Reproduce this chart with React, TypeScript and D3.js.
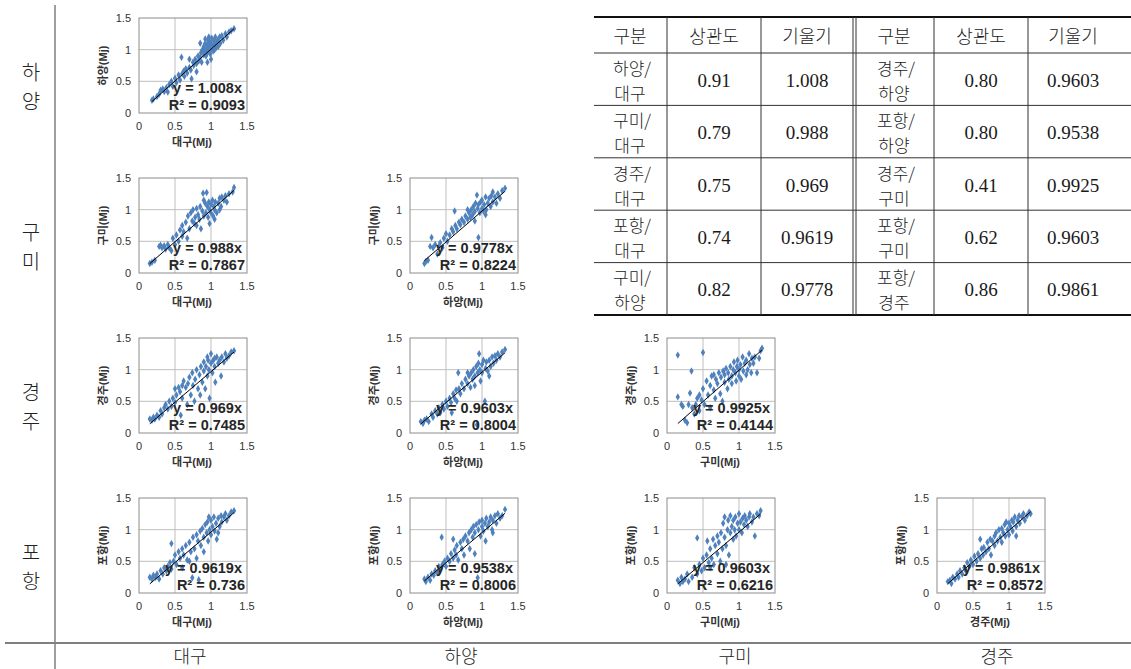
import React, { useRef, useEffect } from 'react';
import * as d3 from 'd3';

type Pt = [number, number];

// station names (x series by column, y series by row + 1)
const stations = ['대구', '하양', '구미', '경주', '포항'];
const axisTicks = [0, 0.5, 1, 1.5];

// scatter points: [x, y]
const hayangDaegu: Pt[] = [[0.18,0.2],[0.2,0.22],[0.25,0.26],[0.28,0.3],[0.3,0.36],[0.33,0.38],[0.35,0.34],[0.38,0.4],[0.4,0.33],[0.42,0.45],[0.45,0.5],[0.47,0.42],[0.5,0.55],[0.52,0.48],[0.55,0.6],[0.57,0.52],[0.59,0.88],[0.6,0.62],[0.62,0.66],[0.63,0.58],[0.65,0.7],[0.67,0.63],[0.7,0.72],[0.72,0.68],[0.73,0.54],[0.75,0.8],[0.76,0.75],[0.78,0.85],[0.8,0.78],[0.82,0.9],[0.83,0.82],[0.85,0.88],[0.86,0.95],[0.87,0.8],[0.88,1.0],[0.9,0.92],[0.9,1.05],[0.91,0.98],[0.92,1.1],[0.93,0.9],[0.94,1.02],[0.95,1.08],[0.95,0.95],[0.96,1.15],[0.97,1.0],[0.98,1.05],[0.98,1.12],[0.99,0.93],[1.0,1.1],[1.0,1.0],[1.01,1.18],[1.02,1.06],[1.03,0.98],[1.04,1.14],[1.05,1.08],[1.06,1.2],[1.07,1.03],[1.08,1.12],[1.1,1.16],[1.1,1.05],[1.12,1.2],[1.13,1.1],[1.15,1.22],[1.17,1.15],[1.2,1.25],[1.22,1.2],[1.25,1.28],[1.28,1.3],[1.32,1.33],[0.95,0.8],[1.0,0.85],[0.85,1.1],[0.8,0.65],[0.7,0.85],[0.92,1.17],[1.05,1.0],[0.97,1.2]];
const gumiDaegu: Pt[] = [[0.15,0.15],[0.18,0.17],[0.22,0.2],[0.28,0.42],[0.3,0.44],[0.32,0.4],[0.35,0.43],[0.37,0.38],[0.4,0.45],[0.42,0.4],[0.45,0.35],[0.47,0.55],[0.5,0.45],[0.52,0.6],[0.55,0.5],[0.57,0.68],[0.6,0.58],[0.6,0.75],[0.62,0.65],[0.65,0.8],[0.67,0.55],[0.68,0.9],[0.7,0.7],[0.72,0.95],[0.74,0.82],[0.75,1.0],[0.77,0.78],[0.78,0.88],[0.8,1.02],[0.82,0.92],[0.84,0.85],[0.85,1.05],[0.86,0.7],[0.88,0.98],[0.89,1.26],[0.9,0.9],[0.92,1.1],[0.93,0.95],[0.94,1.27],[0.95,1.05],[0.96,0.88],[0.97,1.12],[0.98,1.0],[1.0,0.95],[1.0,1.08],[1.02,1.15],[1.03,0.9],[1.04,1.05],[1.05,1.0],[1.06,1.12],[1.08,0.95],[1.1,1.1],[1.12,1.18],[1.14,1.05],[1.15,1.2],[1.18,1.15],[1.2,1.22],[1.22,1.12],[1.25,1.25],[1.3,1.28],[1.32,1.35],[0.98,0.78],[1.05,0.85],[0.9,1.15],[0.8,0.75],[1.12,1.0]];
const gumiHayang: Pt[] = [[0.2,0.15],[0.22,0.18],[0.25,0.2],[0.28,0.42],[0.3,0.56],[0.32,0.4],[0.35,0.45],[0.38,0.3],[0.4,0.42],[0.42,0.48],[0.45,0.4],[0.47,0.55],[0.5,0.62],[0.52,0.5],[0.55,0.6],[0.58,0.7],[0.6,0.65],[0.62,0.98],[0.63,0.75],[0.65,0.7],[0.68,0.8],[0.7,0.76],[0.72,0.85],[0.75,0.8],[0.77,0.9],[0.8,0.85],[0.82,0.95],[0.84,0.88],[0.85,1.0],[0.87,0.92],[0.88,1.05],[0.9,0.97],[0.91,1.1],[0.93,1.23],[0.94,1.02],[0.95,0.56],[0.95,1.08],[0.97,0.95],[0.98,1.12],[1.0,1.02],[1.0,1.15],[1.02,0.98],[1.03,1.08],[1.05,1.2],[1.06,1.0],[1.08,1.1],[1.1,1.18],[1.12,1.05],[1.13,1.22],[1.15,1.12],[1.18,1.2],[1.2,1.1],[1.22,1.25],[1.25,1.18],[1.28,1.3],[1.32,1.34],[0.9,0.82],[1.05,0.92],[0.8,1.0],[1.15,1.28]];
const gyeongjuDaegu: Pt[] = [[0.15,0.22],[0.18,0.2],[0.2,0.25],[0.22,0.22],[0.25,0.28],[0.28,0.25],[0.3,0.35],[0.32,0.3],[0.35,0.4],[0.37,0.45],[0.4,0.38],[0.42,0.5],[0.45,0.42],[0.47,0.55],[0.5,0.48],[0.5,0.7],[0.52,0.6],[0.55,0.72],[0.57,0.65],[0.6,0.75],[0.6,0.55],[0.62,0.82],[0.65,0.72],[0.67,0.45],[0.68,0.78],[0.7,0.88],[0.72,0.6],[0.74,0.95],[0.75,0.75],[0.77,0.5],[0.78,0.85],[0.8,1.0],[0.82,0.7],[0.84,0.92],[0.85,0.6],[0.86,1.05],[0.88,0.8],[0.9,0.98],[0.9,1.12],[0.92,0.7],[0.93,1.05],[0.95,0.9],[0.96,1.15],[0.97,1.0],[0.98,0.55],[1.0,1.1],[1.0,1.25],[1.02,0.95],[1.03,1.15],[1.05,1.05],[1.06,0.8],[1.08,1.2],[1.1,1.1],[1.12,1.15],[1.14,0.9],[1.15,1.2],[1.18,1.12],[1.2,1.25],[1.22,1.18],[1.25,1.22],[1.28,1.28],[1.32,1.3],[0.95,1.2],[1.05,1.18],[0.58,0.28]];
const gyeongjuHayang: Pt[] = [[0.15,0.18],[0.18,0.15],[0.2,0.2],[0.23,0.22],[0.26,0.18],[0.3,0.3],[0.32,0.25],[0.35,0.35],[0.38,0.3],[0.4,0.4],[0.42,0.32],[0.45,0.45],[0.47,0.38],[0.5,0.5],[0.52,0.42],[0.55,0.55],[0.57,0.48],[0.6,0.62],[0.62,0.55],[0.64,0.68],[0.65,0.5],[0.67,0.95],[0.68,0.7],[0.7,0.62],[0.72,0.78],[0.75,0.7],[0.77,0.85],[0.8,0.78],[0.82,0.9],[0.84,0.72],[0.85,0.95],[0.87,0.85],[0.88,1.0],[0.9,0.9],[0.92,1.05],[0.93,0.13],[0.94,0.95],[0.95,1.1],[0.96,1.25],[0.97,1.0],[0.98,0.82],[1.0,1.08],[1.0,0.95],[1.02,1.15],[1.04,0.5],[1.05,1.02],[1.06,1.12],[1.08,0.98],[1.1,1.15],[1.12,1.05],[1.14,1.2],[1.16,1.1],[1.18,1.22],[1.2,1.15],[1.22,1.25],[1.25,1.2],[1.28,1.28],[1.32,1.32],[0.9,0.75],[1.1,0.9],[0.8,0.95],[0.58,0.32]];
const gyeongjuGumi: Pt[] = [[0.15,1.23],[0.15,0.57],[0.2,0.45],[0.22,0.42],[0.25,0.2],[0.28,0.16],[0.3,0.45],[0.32,0.63],[0.34,0.98],[0.35,0.4],[0.38,0.3],[0.4,0.45],[0.42,0.55],[0.45,0.35],[0.48,0.52],[0.5,1.27],[0.5,0.7],[0.52,0.45],[0.55,0.82],[0.57,0.6],[0.6,0.75],[0.6,0.4],[0.62,0.9],[0.65,0.68],[0.67,0.55],[0.68,0.85],[0.7,0.78],[0.72,0.95],[0.74,0.62],[0.75,0.88],[0.77,0.5],[0.78,0.98],[0.8,0.8],[0.8,0.92],[0.82,1.02],[0.84,0.7],[0.85,0.95],[0.86,0.85],[0.88,1.05],[0.9,0.9],[0.9,0.78],[0.92,1.0],[0.93,1.12],[0.95,0.95],[0.96,0.82],[0.97,1.05],[0.98,1.15],[1.0,0.9],[1.0,1.0],[1.02,1.08],[1.03,0.85],[1.05,1.2],[1.06,0.98],[1.08,1.1],[1.1,0.92],[1.1,1.15],[1.12,1.0],[1.14,1.25],[1.15,1.08],[1.17,0.95],[1.18,1.18],[1.2,1.1],[1.22,1.2],[1.25,0.95],[1.28,1.18],[1.3,1.3],[1.32,1.34],[0.65,0.92],[0.45,0.6]];
const pohangDaegu: Pt[] = [[0.15,0.25],[0.18,0.22],[0.2,0.28],[0.23,0.25],[0.25,0.3],[0.28,0.22],[0.3,0.35],[0.33,0.3],[0.35,0.4],[0.38,0.35],[0.4,0.42],[0.43,0.48],[0.45,0.78],[0.45,0.38],[0.48,0.5],[0.5,0.6],[0.52,0.45],[0.55,0.65],[0.57,0.55],[0.6,0.7],[0.6,0.4],[0.62,0.6],[0.65,0.75],[0.67,0.52],[0.7,0.8],[0.72,0.65],[0.74,0.24],[0.75,0.88],[0.77,0.7],[0.8,0.92],[0.8,0.55],[0.82,0.82],[0.83,0.21],[0.85,0.98],[0.86,0.75],[0.88,1.02],[0.9,0.88],[0.9,0.65],[0.92,1.08],[0.94,0.95],[0.95,1.12],[0.96,0.82],[0.98,1.0],[1.0,1.15],[1.0,0.92],[1.02,1.05],[1.04,1.2],[1.05,0.98],[1.07,1.1],[1.08,0.85],[1.1,1.18],[1.12,1.05],[1.14,1.22],[1.15,1.12],[1.18,1.2],[1.2,1.25],[1.22,1.15],[1.25,1.22],[1.28,1.28],[1.32,1.3],[0.97,1.2],[1.1,0.95],[0.7,0.5]];
const pohangHayang: Pt[] = [[0.2,0.22],[0.22,0.18],[0.25,0.25],[0.28,0.2],[0.3,0.3],[0.33,0.28],[0.35,0.35],[0.38,0.32],[0.4,0.42],[0.43,0.38],[0.44,0.88],[0.45,0.45],[0.48,0.5],[0.5,0.42],[0.52,0.55],[0.55,0.5],[0.57,0.62],[0.6,0.55],[0.62,0.68],[0.64,0.6],[0.65,0.75],[0.67,0.52],[0.7,0.8],[0.72,0.7],[0.74,0.85],[0.75,0.6],[0.77,0.9],[0.8,0.82],[0.82,0.95],[0.83,0.7],[0.85,1.0],[0.87,0.88],[0.88,1.05],[0.9,0.95],[0.9,0.62],[0.92,1.08],[0.94,0.24],[0.95,1.0],[0.96,1.12],[0.98,0.9],[1.0,1.05],[1.0,1.15],[1.02,0.98],[1.04,1.1],[1.05,0.82],[1.06,1.18],[1.08,1.05],[1.1,1.12],[1.12,1.2],[1.14,1.0],[1.15,1.15],[1.18,1.22],[1.2,1.1],[1.22,1.25],[1.25,1.18],[1.28,1.22],[1.32,1.32],[0.6,0.85],[1.15,0.95]];
const pohangGumi: Pt[] = [[0.15,0.2],[0.18,0.15],[0.2,0.25],[0.22,0.18],[0.25,0.22],[0.28,0.3],[0.3,0.18],[0.35,0.25],[0.38,0.4],[0.42,0.87],[0.42,0.3],[0.45,0.45],[0.48,0.35],[0.5,0.55],[0.52,0.4],[0.55,0.6],[0.56,0.82],[0.58,0.48],[0.6,0.7],[0.62,0.55],[0.64,0.85],[0.65,0.45],[0.67,0.75],[0.7,0.62],[0.7,0.9],[0.72,0.8],[0.74,0.5],[0.75,0.95],[0.77,0.7],[0.78,1.1],[0.8,0.88],[0.8,1.2],[0.82,0.75],[0.84,1.0],[0.85,1.15],[0.86,0.6],[0.88,0.95],[0.88,1.22],[0.9,1.05],[0.92,0.85],[0.92,1.15],[0.94,1.0],[0.95,1.2],[0.96,0.9],[0.98,1.1],[1.0,1.0],[1.0,1.25],[1.02,1.12],[1.04,0.95],[1.05,1.18],[1.07,1.08],[1.08,1.22],[1.1,1.15],[1.12,1.05],[1.14,1.2],[1.15,1.25],[1.18,1.12],[1.2,1.2],[1.22,0.9],[1.25,1.25],[1.28,1.22],[1.3,1.3],[0.6,0.4],[0.82,0.45]];
const pohangGyeongju: Pt[] = [[0.15,0.18],[0.18,0.2],[0.2,0.15],[0.22,0.25],[0.25,0.22],[0.28,0.3],[0.3,0.25],[0.32,0.35],[0.35,0.3],[0.38,0.4],[0.4,0.35],[0.42,0.48],[0.45,0.42],[0.47,0.52],[0.5,0.45],[0.52,0.58],[0.55,0.5],[0.57,0.62],[0.6,0.55],[0.62,0.7],[0.64,0.6],[0.65,0.72],[0.68,0.65],[0.7,0.8],[0.72,0.7],[0.74,0.85],[0.75,0.6],[0.77,0.82],[0.8,0.9],[0.8,0.75],[0.82,0.95],[0.84,0.82],[0.86,1.0],[0.88,0.88],[0.9,1.02],[0.9,0.8],[0.92,0.95],[0.94,1.08],[0.95,0.9],[0.96,1.12],[0.98,1.0],[1.0,1.1],[1.0,0.92],[1.02,1.05],[1.04,1.15],[1.05,0.98],[1.06,1.12],[1.08,1.2],[1.1,1.05],[1.12,1.15],[1.14,1.22],[1.15,1.1],[1.18,1.2],[1.2,1.25],[1.22,1.15],[1.25,1.22],[1.28,1.28],[1.3,1.25],[0.6,0.85],[1.1,0.9]];

// panel order: row by row (y station), left to right (x station)
const panelPoints: Pt[][] = [hayangDaegu, gumiDaegu, gumiHayang, gyeongjuDaegu, gyeongjuHayang, gyeongjuGumi, pohangDaegu, pohangHayang, pohangGumi, pohangGyeongju];
const slopes = ['1.008', '0.988', '0.9778', '0.969', '0.9603', '0.9925', '0.9619', '0.9538', '0.9603', '0.9861'];
const rSquared = ['0.9093', '0.7867', '0.8224', '0.7485', '0.8004', '0.4144', '0.736', '0.8006', '0.6216', '0.8572'];

// summary table
const tableHeader = ['구분', '상관도', '기울기'];
const tableLeft = [['하양/', '대구', '0.91', '1.008'], ['구미/', '대구', '0.79', '0.988'], ['경주/', '대구', '0.75', '0.969'], ['포항/', '대구', '0.74', '0.9619'], ['구미/', '하양', '0.82', '0.9778']];
const tableRight = [['경주/', '하양', '0.80', '0.9603'], ['포항/', '하양', '0.80', '0.9538'], ['경주/', '구미', '0.41', '0.9925'], ['포항/', '구미', '0.62', '0.9603'], ['포항/', '경주', '0.86', '0.9861']];

const W = 1131;
const H = 669;
const colLeft = [139, 410, 667, 937];
const rowTop = [18, 178, 338, 498];
const colLabelX = [190, 461, 735, 997];
const plotW = 108;
const plotH = 95;

const korSerif = "'Noto Sans CJK KR', sans-serif";
const latin = "'Liberation Sans', Arial, 'Noto Sans CJK KR', sans-serif";
const numSerif = "'Liberation Serif', 'DejaVu Serif', serif";

const App: React.FC = () => {
  const svgRef = useRef<SVGSVGElement>(null);

  useEffect(() => {
    if (!svgRef.current) return;
    const svg = d3.select(svgRef.current);
    svg.selectAll('*').remove();

    svg.append('rect').attr('width', W).attr('height', H).attr('fill', '#fff');

    // frame lines
    svg.append('line').attr('x1', 55).attr('x2', 55).attr('y1', 5).attr('y2', H)
      .attr('stroke', '#7f7f7f').attr('stroke-width', 1.5);
    svg.append('line').attr('x1', 5).attr('x2', W).attr('y1', 643).attr('y2', 643)
      .attr('stroke', '#7f7f7f').attr('stroke-width', 2);

    // row labels (stacked syllables)
    stations.slice(1).forEach((name, i) => {
      const cy = rowTop[i] + 55;
      const lbl = svg.append('text').attr('text-anchor', 'middle')
        .style('font-family', korSerif).style('font-size', '20px').style('font-weight', 300)
        .attr('fill', '#222');
      name.split('').forEach((ch, k) => {
        lbl.append('tspan').attr('x', 31).attr('y', cy + 7 + k * 29).text(ch);
      });
    });

    // column labels
    stations.slice(0, 4).forEach((name, j) => {
      svg.append('text').attr('x', colLabelX[j]).attr('y', 663)
        .attr('text-anchor', 'middle')
        .style('font-family', korSerif).style('font-size', '18px').style('font-weight', 300)
        .attr('fill', '#222').text(name);
    });

    // scatter panels
    let p = 0;
    for (let i = 0; i < 4; i++) {
      for (let j = 0; j <= i; j++) {
        const pts = panelPoints[p];
        const left = colLeft[j];
        const top = rowTop[i];
        const x = d3.scaleLinear().domain([0, 1.5]).range([0, plotW]);
        const y = d3.scaleLinear().domain([0, 1.5]).range([plotH, 0]);
        const g = svg.append('g').attr('transform', `translate(${left},${top})`);

        // grid
        g.selectAll('.gx').data([0.5, 1]).enter().append('line')
          .attr('x1', (d: number) => x(d)).attr('x2', (d: number) => x(d))
          .attr('y1', 0).attr('y2', plotH).attr('stroke', '#bfbfbf').attr('stroke-width', 1);
        g.selectAll('.gy').data([0.5, 1]).enter().append('line')
          .attr('y1', (d: number) => y(d)).attr('y2', (d: number) => y(d))
          .attr('x1', 0).attr('x2', plotW).attr('stroke', '#bfbfbf').attr('stroke-width', 1);
        g.append('rect').attr('width', plotW).attr('height', plotH)
          .attr('fill', 'none').attr('stroke', '#8c8c8c').attr('stroke-width', 1);

        // tick labels
        g.selectAll('.tx').data(axisTicks).enter().append('text')
          .attr('x', (d: number) => x(d)).attr('y', plotH + 17)
          .attr('text-anchor', 'middle').style('font-family', latin).style('font-size', '11px')
          .attr('fill', '#333').text((d: number) => String(d));
        g.selectAll('.ty').data(axisTicks).enter().append('text')
          .attr('x', -8).attr('y', (d: number) => y(d) + 4)
          .attr('text-anchor', 'end').style('font-family', latin).style('font-size', '11px')
          .attr('fill', '#333').text((d: number) => String(d));

        // axis titles
        g.append('text').attr('x', plotW / 2 - 1).attr('y', plotH + 33)
          .attr('text-anchor', 'middle').style('font-family', latin).style('font-size', '11px')
          .style('font-weight', 'bold').attr('fill', '#333').text(`${stations[j]}(Mj)`);
        g.append('text')
          .attr('transform', `translate(-32,${plotH / 2}) rotate(-90)`)
          .attr('text-anchor', 'middle').style('font-family', latin).style('font-size', '11px')
          .style('font-weight', 'bold').attr('fill', '#333').text(`${stations[i + 1]}(Mj)`);

        // points
        g.selectAll('.pt').data(pts).enter().append('path')
          .attr('d', d3.symbol().type(d3.symbolDiamond).size(16)())
          .attr('transform', (d: Pt) => `translate(${x(d[0])},${y(d[1])})`)
          .attr('fill', '#4f81bd');

        // trend line y = slope * x
        const s = +slopes[p];
        const [x0, x1] = d3.extent(pts, (d: Pt) => d[0]) as [number, number];
        g.append('line').attr('x1', x(x0)).attr('y1', y(s * x0)).attr('x2', x(x1)).attr('y2', y(s * x1))
          .attr('stroke', '#000').attr('stroke-width', 1);

        // equation labels
        g.append('text').attr('x', plotW - 5).attr('y', 75).attr('text-anchor', 'end')
          .style('font-family', latin).style('font-size', '14.5px').style('font-weight', 'bold')
          .attr('fill', '#262626').text(`y = ${slopes[p]}x`);
        g.append('text').attr('x', plotW - 2).attr('y', 92).attr('text-anchor', 'end')
          .style('font-family', latin).style('font-size', '14.5px').style('font-weight', 'bold')
          .attr('fill', '#262626').text(`R² = ${rSquared[p]}`);
        p++;
      }
    }

    // table
    const tTop = 17;
    const headBottom = 53;
    const rowH = (315 - headBottom) / 5;
    const tLeft = 594;
    const tRight = W;
    const colLines = [667, 761, 934, 1028];
    const centersL = [630, 714, 807];
    const centersR = [894, 981, 1073];
    const t = svg.append('g');

    t.append('line').attr('x1', tLeft).attr('x2', tRight).attr('y1', tTop).attr('y2', tTop)
      .attr('stroke', '#111').attr('stroke-width', 2);
    t.append('line').attr('x1', tLeft).attr('x2', tRight).attr('y1', 315).attr('y2', 315)
      .attr('stroke', '#111').attr('stroke-width', 2);
    for (let r = 0; r < 5; r++) {
      const yy = headBottom + r * rowH;
      t.append('line').attr('x1', tLeft).attr('x2', tRight).attr('y1', yy).attr('y2', yy)
        .attr('stroke', '#333').attr('stroke-width', 1);
    }
    colLines.forEach((cx) => {
      t.append('line').attr('x1', cx).attr('x2', cx).attr('y1', tTop).attr('y2', 315)
        .attr('stroke', '#333').attr('stroke-width', 1);
    });
    [853, 856].forEach((cx) => {
      t.append('line').attr('x1', cx).attr('x2', cx).attr('y1', tTop).attr('y2', 315)
        .attr('stroke', '#333').attr('stroke-width', 1);
    });

    const cellText = (cx: number, cy: number, txt: string, font: string, size: number) =>
      t.append('text').attr('x', cx).attr('y', cy).attr('text-anchor', 'middle')
        .attr('dominant-baseline', 'central').style('font-family', font)
        .style('font-size', `${size}px`).style('font-weight', 300)
        .attr('fill', '#1a1a1a').text(txt);

    tableHeader.forEach((h, k) => {
      cellText(centersL[k], (tTop + headBottom) / 2, h, korSerif, 18);
      cellText(centersR[k], (tTop + headBottom) / 2, h, korSerif, 18);
    });
    [tableLeft, tableRight].forEach((rows, side) => {
      const centers = side === 0 ? centersL : centersR;
      rows.forEach((row, r) => {
        const cy = headBottom + r * rowH + rowH / 2;
        // two-line station pair
        cellText(centers[0] + 2, cy - 12, row[0], korSerif, 17);
        cellText(centers[0], cy + 13, row[1], korSerif, 17);
        cellText(centers[1], cy + 1, row[2], numSerif, 19);
        cellText(centers[2], cy + 1, row[3], numSerif, 19);
      });
    });
  }, []);

  return (
    <div style={{ position: 'absolute', left: 0, top: 0, width: W, height: H }}>
      <svg ref={svgRef} width={W} height={H} viewBox={`0 0 ${W} ${H}`}></svg>
    </div>
  );
};

export default App;
